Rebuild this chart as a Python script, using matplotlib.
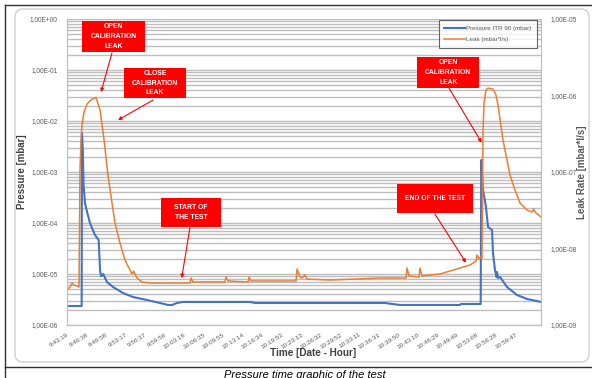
import matplotlib
matplotlib.use('Agg')
import matplotlib.pyplot as plt
import numpy as np
from matplotlib.ticker import FixedLocator, FuncFormatter, LogLocator, NullFormatter
from matplotlib.patches import Rectangle, FancyBboxPatch
from matplotlib.lines import Line2D
from matplotlib.transforms import IdentityTransform

plt.rcParams['font.family'] = ['Liberation Sans', 'DejaVu Sans']

# time axis: seconds since 9:43:19
start_clock = '9:43:19'
tick_labels = ['9:43:19', '9:46:38', '9:49:58', '9:53:17', '9:56:37', '9:59:56',
               '10:03:16', '10:06:35', '10:09:55', '10:13:14', '10:16:34', '10:19:53',
               '10:23:13', '10:26:32', '10:29:52', '10:33:11', '10:36:31', '10:39:50',
               '10:43:10', '10:46:29', '10:49:49', '10:53:08', '10:56:28', '10:59:47']
t_end = 4849

# pressure ITR 90 (mbar)
p_t = [0, 150, 153, 162, 169, 184, 208, 235, 286, 324,
       338, 348, 371, 389, 409, 471, 573, 675, 818, 951,
       1033, 1074, 1125, 1187, 1872, 1923, 3253, 3407, 4020, 4031,
       4232, 4238, 4256, 4286, 4307, 4348, 4358, 4378, 4394, 4399,
       4409, 4430, 4501, 4604, 4706, 4849]
p_v = [2.36e-6, 2.36e-6, 5.8e-3, 2.7e-3, 5.56e-4, 2.47e-4, 1.57e-4, 1.0e-4, 5.82e-5, 4.64e-5,
       1.2e-5, 9.1e-6, 1.0e-5, 8.35e-6, 6.97e-6, 5.56e-6, 4.24e-6, 3.54e-6, 3.09e-6, 2.70e-6,
       2.47e-6, 2.47e-6, 2.70e-6, 2.83e-6, 2.83e-6, 2.70e-6, 2.70e-6, 2.47e-6, 2.47e-6, 2.58e-6,
       2.58e-6, 1.72e-3, 4.44e-4, 2.06e-4, 8.35e-5, 7.29e-5, 2.58e-5, 1.2e-5, 8.73e-6, 1.09e-5,
       8.35e-6, 8.73e-6, 5.56e-6, 3.87e-6, 3.24e-6, 2.83e-6]

# leak rate (mbar*l/s)
l_t = [0, 31, 51, 72, 102, 123, 133, 143, 153, 174,
       205, 256, 297, 338, 379, 419, 460, 491, 542, 593,
       644, 665, 680, 716, 767, 849, 1258, 1269, 1289, 1616,
       1627, 1647, 1852, 1862, 1882, 2230, 2343, 2353, 2384, 2404,
       2435, 2455, 2690, 3202, 3468, 3478, 3499, 3601, 3611, 3632,
       3816, 4020, 4123, 4184, 4194, 4215, 4235, 4245, 4256, 4266,
       4286, 4307, 4358, 4388, 4409, 4460, 4532, 4583, 4634, 4706,
       4757, 4772, 4798, 4849]
l_v = [2.87e-9, 3.14e-9, 3.54e-9, 3.33e-9, 3.24e-9, 3.14e-9, 1.06e-7, 2.63e-7, 4.11e-7, 6.08e-7,
       7.74e-7, 9.0e-7, 9.42e-7, 6.46e-7, 2.62e-7, 9.1e-8, 3.94e-8, 2.15e-8, 1.18e-8, 7.08e-9,
       5.24e-9, 4.64e-9, 5.08e-9, 4.11e-9, 3.65e-9, 3.54e-9, 3.54e-9, 4.11e-9, 3.65e-9, 3.65e-9,
       4.24e-9, 3.76e-9, 3.65e-9, 4.24e-9, 3.76e-9, 3.76e-9, 3.76e-9, 5.40e-9, 4.24e-9, 4.11e-9,
       4.51e-9, 3.98e-9, 3.87e-9, 4.11e-9, 4.11e-9, 5.56e-9, 4.38e-9, 4.24e-9, 5.56e-9, 4.38e-9,
       4.64e-9, 5.56e-9, 6.08e-9, 6.87e-9, 8.22e-9, 7.29e-9, 7.74e-9, 7.5e-9, 3.54e-7, 7.98e-7,
       1.18e-6, 1.25e-6, 1.21e-6, 1.02e-6, 7.5e-7, 2.62e-7, 9.1e-8, 5.82e-8, 3.94e-8, 3.18e-8,
       3.0e-8, 3.28e-8, 2.91e-8, 2.58e-8]

# callouts: text, box (axes fraction x0, y0, w, h), arrow start (axes fraction), arrow tip (time, leak)
notes = [
    ('OPEN\nCALIBRATION\nLEAK', (0.0323, 0.892, 0.1323, 0.1013), (0.0949, 0.889), (348, 1.11e-6)),
    ('CLOSE\nCALIBRATION\nLEAK', (0.1209, 0.7408, 0.1295, 0.100), (0.1814, 0.735), (522, 4.78e-7)),
    ('START OF\nTHE TEST', (0.1977, 0.3212, 0.1272, 0.0928), (0.2595, 0.320), (1173, 4.1e-9)),
    ('END OF THE TEST', (0.6956, 0.365, 0.1603, 0.0958), (0.776, 0.363), (4082, 6.52e-9)),
    ('OPEN\nCALIBRATION\nLEAK', (0.739, 0.7735, 0.1308, 0.1033), (0.806, 0.774), (4242, 2.42e-7)),
]


def clock_to_sec(s):
    h, m, sec = [int(v) for v in s.split(':')]
    return h * 3600 + m * 60 + sec


def sci_comma(v, pos):
    return ('%.2E' % v).replace('.', ',')


t0 = clock_to_sec(start_clock)
tick_pos = [clock_to_sec(s) - t0 for s in tick_labels]

txt_col = '#595959'
grid_col = '#bdbdbd'

fig = plt.figure(figsize=(5.92, 3.78), dpi=100)
fig.patch.set_facecolor('white')
ax = fig.add_axes([67 / 592, 1 - 325 / 378, 474 / 592, 306 / 378])
ax2 = ax.twinx()

line_p, = ax.plot(p_t, p_v, color='#4472C4', lw=1.5, solid_joinstyle='round',
                  label='Pressure ITR 90 (mbar)')
line_l, = ax2.plot(l_t, l_v, color='#ED7D31', lw=1.1, solid_joinstyle='round',
                   label='Leak (mbar*l/s)')

ax.set_yscale('log')
ax.set_ylim(1e-6, 1)
ax2.set_yscale('log')
ax2.set_ylim(1e-9, 1e-5)
ax.set_xlim(0, t_end)

ax.yaxis.set_major_locator(LogLocator(base=10, numticks=10))
ax.yaxis.set_minor_locator(LogLocator(base=10, subs=np.arange(2, 10), numticks=20))
ax.yaxis.set_major_formatter(FuncFormatter(sci_comma))
ax.yaxis.set_minor_formatter(NullFormatter())
ax2.yaxis.set_major_locator(LogLocator(base=10, numticks=10))
ax2.yaxis.set_minor_locator(LogLocator(base=10, subs=np.arange(2, 10), numticks=20))
ax2.yaxis.set_major_formatter(FuncFormatter(sci_comma))
ax2.yaxis.set_minor_formatter(NullFormatter())

ax.grid(which='both', axis='y', color=grid_col, lw=1.0)
ax.set_axisbelow(True)

ax.xaxis.set_major_locator(FixedLocator(tick_pos))
ax.set_xticklabels(tick_labels, rotation=32, ha='right', rotation_mode='anchor')

for a in (ax, ax2):
    a.tick_params(which='both', length=0, colors=txt_col, labelsize=4.7)
    for s in a.spines.values():
        s.set_color('#bfbfbf')
        s.set_linewidth(0.8)
    a.spines['top'].set_visible(False)
ax.tick_params(axis='x', labelsize=4.6, pad=5)
ax.tick_params(axis='y', pad=7)
ax2.tick_params(axis='y', pad=7)

ax.set_ylabel('Pressure [mbar]', fontsize=7, fontweight='bold', color='#404040')
ax.yaxis.set_label_coords((27 - 67) / 474, 0.5)
ax2.set_ylabel('Leak Rate [mbar*l/s]', fontsize=7, fontweight='bold', color='#595959')
ax2.yaxis.set_label_coords((577 - 67) / 474, 0.5)
ax.set_xlabel('Time [Date - Hour]', fontsize=7.2, fontweight='bold', color='#404040')
ax.xaxis.set_label_coords((313 - 67) / 474, (325 - 348) / 306)

leg = ax2.legend(handles=[line_p, line_l], loc='upper right', bbox_to_anchor=(0.9916, 0.997),
                 borderaxespad=0, fontsize=4.5, fancybox=False, frameon=True,
                 handlelength=3.4, handletextpad=0.1, labelspacing=0.9, borderpad=0.9)
leg.get_frame().set_edgecolor('#404040')
leg.get_frame().set_linewidth(0.8)
for t in leg.get_texts():
    t.set_color(txt_col)

# red callouts with arrows
for text, (x0, y0, w, h), (ax_, ay_), tip in notes:
    ax2.add_patch(Rectangle((x0, y0), w, h, transform=ax2.transAxes, facecolor='#FF0000',
                            edgecolor='none', clip_on=False, zorder=5))
    ax2.text(x0 + w / 2, y0 + h / 2, text, transform=ax2.transAxes, ha='center', va='center',
             color='white', fontsize=4.9, fontweight='bold', linespacing=1.55, zorder=6)
    ax2.annotate('', xy=tip, xycoords='data', xytext=(ax_, ay_), textcoords='axes fraction',
                 arrowprops=dict(arrowstyle='-|>', color='#FF0000', lw=0.8,
                                 mutation_scale=5, shrinkA=0, shrinkB=0), zorder=6)

# page furniture around the chart
box = FancyBboxPatch((15, 378 - 362), 574, 353, boxstyle='round,pad=0,rounding_size=8',
                     transform=IdentityTransform(), facecolor='none', edgecolor='#d0d0d0',
                     lw=1.0)
fig.add_artist(box)
for xs, ys in [([5, 592], [373, 373]), ([5, 5], [0, 373]), ([5, 592], [11, 11])]:
    fig.add_artist(Line2D(xs, ys, transform=IdentityTransform(), color='#303030', lw=1.0))
fig.text(305 / 592, 8 / 378, 'Pressure time graphic of the test', ha='center', va='top',
         fontsize=8, style='italic', color='black')

fig.savefig('out.png', dpi=100)
